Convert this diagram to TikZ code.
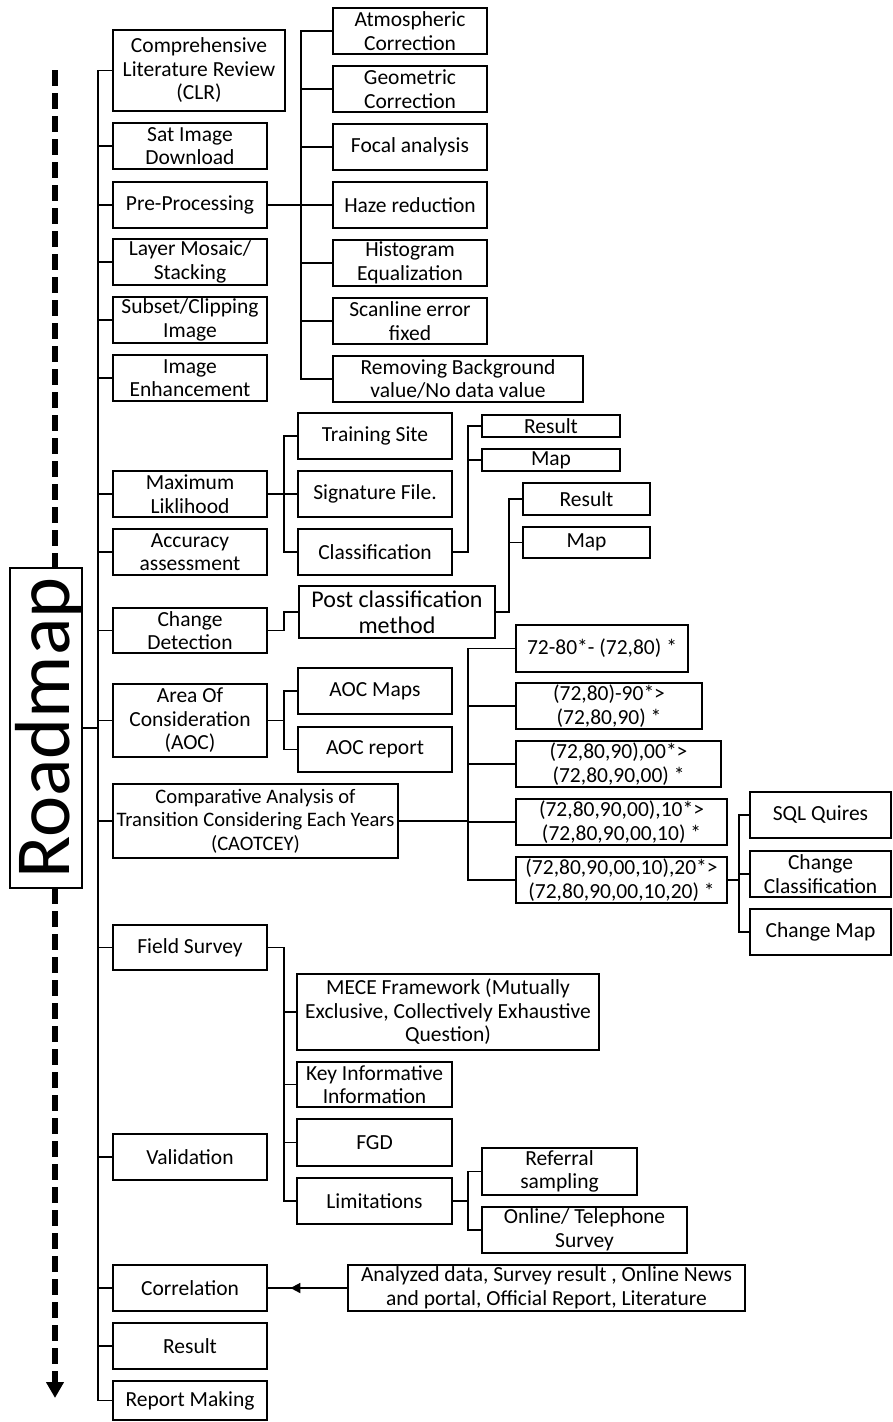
\documentclass[tikz,border=0pt]{standalone}
\usepackage{fontspec}
\setmainfont{Carlito}
\usetikzlibrary{arrows.meta,decorations.markings}
\newcommand\fn{\fontsize{21.5}{23.5}\selectfont}
\newcommand\fnb{\fontsize{24}{25.5}\selectfont}
\newcommand\fns{\fontsize{20.6}{23.5}\selectfont}
\newcommand\bx[7][]{\node[box,#1, minimum width={(#5)-(#3)}, minimum height={(#6)-(#4)}] (#2) at ({((#3)+(#5))/2},{((#4)+(#6))/2}) {#7};}
\begin{document}
\begin{tikzpicture}[x=1pt,y=-1pt,
  box/.style={draw, line width=1.8pt, inner sep=0pt, align=center, font=\fn},
  conn/.style={line width=1.8pt},
  roadline/.style={line width=5.5pt, dash pattern=on 16pt off 7pt}]
\fill[white] (0,0) rectangle (893,1422);
\useasboundingbox (0,0) rectangle (893,1422);
% Roadmap
\coordinate (dtop) at (55,70);
\coordinate (dbot) at (55,1398);
\coordinate (rmtop) at (55,568);
\coordinate (rmbot) at (55,888);
\draw[roadline] (dtop) -- (rmtop);
\draw[roadline, -{Triangle[width=17pt,length=16pt]}] (rmbot) -- (dbot);
\node[draw, fill=white, line width=1.5pt, minimum width=72, minimum height=320, inner sep=0pt] (rm) at (46,728) {};
\node[rotate=90, font=\fontsize{78}{80}\selectfont, inner sep=0pt] (rmtext) at (49,728) {Roadmap};
% level 1
\bx{clr}{113}{30}{285}{111}{Comprehensive\\Literature Review\\(CLR)}
\bx{sat}{113}{123}{267}{169}{Sat Image\\Download}
\bx{pre}{113}{182}{267}{228}{Pre-Processing}
\bx{layer}{113}{239}{267}{285}{Layer Mosaic/\\Stacking}
\bx{subset}{113}{297}{267}{343}{Subset/Clipping\\Image}
\bx{enh}{113}{355}{267}{401}{Image\\Enhancement}
\bx{ml}{113}{471}{267}{517}{Maximum\\Liklihood}
\bx{acc}{113}{529}{267}{575}{Accuracy\\assessment}
\bx{cd}{113}{608}{267}{653}{Change\\Detection}
\bx{aoc}{113}{684}{267}{757}{Area Of\\Consideration\\(AOC)}
\bx[font=\fns]{caot}{113}{784}{398}{858}{Comparative Analysis of\\Transition Considering Each Years\\(CAOTCEY)}
\bx{fs}{113}{925}{267}{970}{Field Survey}
\bx{val}{113}{1134}{267}{1180}{Validation}
\bx{corr}{113}{1265}{267}{1311}{Correlation}
\bx{res}{113}{1323}{267}{1369}{Result}
\bx{rep}{113}{1381}{267}{1420}{Report Making}
% pre-processing
\bx{atm}{333}{8}{487}{54}{Atmospheric\\Correction}
\bx{geo}{333}{66}{487}{112}{Geometric\\Correction}
\bx{foc}{333}{124}{487}{170}{Focal analysis}
\bx{haze}{333}{182}{487}{228}{Haze reduction}
\bx{hist}{333}{240}{487}{286}{Histogram\\Equalization}
\bx{scan}{333}{298}{487}{344}{Scanline error\\fixed}
\bx{rem}{333}{356}{583}{402}{Removing Background\\value/No data value}
% ML
\bx{train}{298}{413}{452}{459}{Training Site}
\bx{sig}{298}{471}{452}{517}{Signature File.}
\bx{cls}{298}{529}{452}{575}{Classification}
\bx{resa}{482}{415}{620}{437}{Result}
\bx{mapa}{482}{449}{620}{471}{Map}
% change detection
\bx[font=\fnb]{post}{299}{586}{495}{638}{Post classification\\method}
\bx{resb}{523}{483}{650}{515}{Result}
\bx{mapb}{523}{527}{650}{558}{Map}
% AOC
\bx{aocm}{298}{668}{452}{714}{AOC Maps}
\bx{aocr}{298}{727}{452}{772}{AOC report}
% CAOTCEY
\bx{ya}{516}{625}{688}{672}{72-80*- (72,80) *}
\bx{yb}{516}{683}{702}{729}{(72,80)-90*>\\(72,80,90) *}
\bx{yc}{516}{741}{721}{787}{(72,80,90),00*>\\(72,80,90,00) *}
\bx{yd}{516}{799}{727}{845}{(72,80,90,00),10*>\\(72,80,90,00,10) *}
\bx{ye}{516}{857}{727}{903}{(72,80,90,00,10),20*>\\(72,80,90,00,10,20) *}
\bx{sql}{750}{792}{891}{838}{SQL Quires}
\bx{chc}{750}{851}{891}{897}{Change\\Classification}
\bx{chm}{750}{909}{891}{955}{Change Map}
% field survey
\bx{mece}{297}{974}{599}{1050}{MECE Framework (Mutually\\Exclusive, Collectively Exhaustive\\Question)}
\bx{key}{297}{1062}{452}{1107}{Key Informative\\Information}
\bx{fgd}{297}{1119}{452}{1166}{FGD}
\bx{lim}{297}{1178}{452}{1224}{Limitations}
\bx{refs}{482}{1148}{637}{1195}{Referral\\sampling}
\bx{onl}{482}{1207}{687}{1253}{Online/ Telephone\\Survey}
\bx{an}{348}{1265}{745}{1311}{Analyzed data, Survey result , Online News\\and portal, Official Report, Literature}
% connectors
\foreach \n in {clr,sat,pre,layer,subset,enh,ml,acc,cd,aoc,caot,fs,val,corr,res,rep}
  \draw[conn] (rm.east) -- ++(15,0) |- (\n.west);
\foreach \n in {atm,geo,foc,haze,hist,scan,rem}
  \draw[conn] (pre.east) -- ++(33,0) |- (\n.west);
\foreach \n in {train,sig,cls}
  \draw[conn] (ml.east) -- ++(16,0) |- (\n.west);
\foreach \n in {resa,mapa}
  \draw[conn] (cls.east) -- ++(15,0) |- (\n.west);
\draw[conn] (cd.east) -- ++(16,0) |- (post.west);
\foreach \n in {resb,mapb}
  \draw[conn] (post.east) -- ++(13,0) |- (\n.west);
\foreach \n in {aocm,aocr}
  \draw[conn] (aoc.east) -- ++(16,0) |- (\n.west);
\foreach \n in {ya,yb,yc,yd,ye}
  \draw[conn] (caot.east) -- ++(69,0) |- (\n.west);
\foreach \n in {sql,chc,chm}
  \draw[conn] (ye.east) -- ++(11,0) |- (\n.west);
\foreach \n in {mece,key,fgd,lim}
  \draw[conn] (fs.east) -- ++(16,0) |- (\n.west);
\foreach \n in {refs,onl}
  \draw[conn] (lim.east) -- ++(15,0) |- (\n.west);
\draw[conn, postaction={decorate}, decoration={markings,
  mark=at position 0.716 with {\arrow{Triangle[length=10pt,width=10pt]}}}]
  (an.west) -- (corr.east);
\end{tikzpicture}
\end{document}
